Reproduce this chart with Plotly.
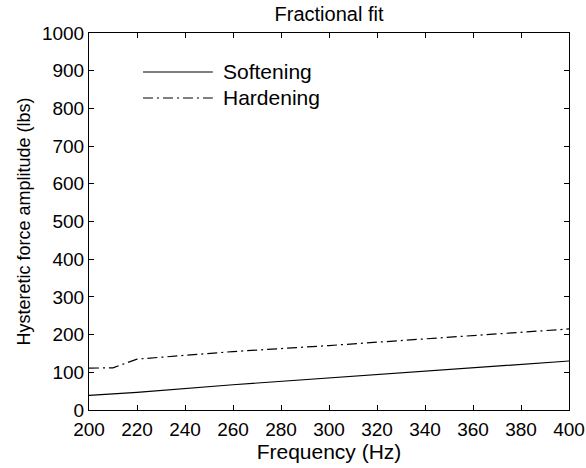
import plotly.graph_objects as go

freq_soft = [200, 220, 260, 300, 340, 400]
soft_vals = [39, 47, 67, 85, 104, 130]

freq_hard = [200, 210, 220, 260, 300, 340, 400]
hard_vals = [111, 112, 135, 155, 171, 189, 215]

x_ticks = [200, 220, 240, 260, 280, 300, 320, 340, 360, 380, 400]
y_ticks = [0, 100, 200, 300, 400, 500, 600, 700, 800, 900, 1000]

series_names = ["Softening", "Hardening"]
DASH_HARD = "10px,4px,2px,4px"

FONT = "Liberation Sans, Arial, sans-serif"

fig = go.Figure()
fig.add_trace(go.Scatter(x=freq_soft, y=soft_vals, mode="lines", name=series_names[0],
                         line=dict(color="black", width=1.2), showlegend=False))
fig.add_trace(go.Scatter(x=freq_hard, y=hard_vals, mode="lines", name=series_names[1],
                         line=dict(color="black", width=1.2, dash=DASH_HARD), showlegend=False))

axis_common = dict(showgrid=False, zeroline=False, showline=True, linecolor="black",
                   linewidth=1, mirror="ticks", ticks="inside", ticklen=5,
                   tickcolor="black", automargin=False,
                   tickfont=dict(size=19, color="black", family=FONT))

fig.update_xaxes(range=[200, 400], tickvals=x_ticks, ticklabelstandoff=2,
                 title=dict(text="Frequency (Hz)", font=dict(size=21, color="black", family=FONT),
                            standoff=4),
                 **axis_common)
fig.update_yaxes(range=[0, 1000], tickvals=y_ticks,
                 title=dict(text="Hysteretic force amplitude (lbs)",
                            font=dict(size=18, color="black", family=FONT), standoff=6),
                 **axis_common)

# manual legend (long line samples as in the reference)
leg_y = [0.8966, 0.8276]
leg_dash = ["solid", DASH_HARD]
for name, yy, dsh in zip(series_names, leg_y, leg_dash):
    fig.add_shape(type="line", xref="paper", yref="paper", x0=0.1125, x1=0.258, y0=yy, y1=yy,
                  line=dict(color="black", width=1.2, dash=dsh))
    fig.add_annotation(text=name, xref="paper", yref="paper", x=0.275, y=yy,
                       xanchor="left", yanchor="middle", showarrow=False,
                       font=dict(size=21, color="black", family=FONT))

fig.update_layout(
    width=586, height=468,
    margin=dict(l=89, r=17, t=33, b=58),
    paper_bgcolor="white", plot_bgcolor="white",
    title=dict(text="Fractional fit", x=0.5, xanchor="center", xref="paper",
               y=0.97, yref="container", yanchor="middle",
               font=dict(size=20, color="black", family=FONT)),
    font=dict(family=FONT, color="black"),
    showlegend=False,
)

fig.write_html("out.html")
